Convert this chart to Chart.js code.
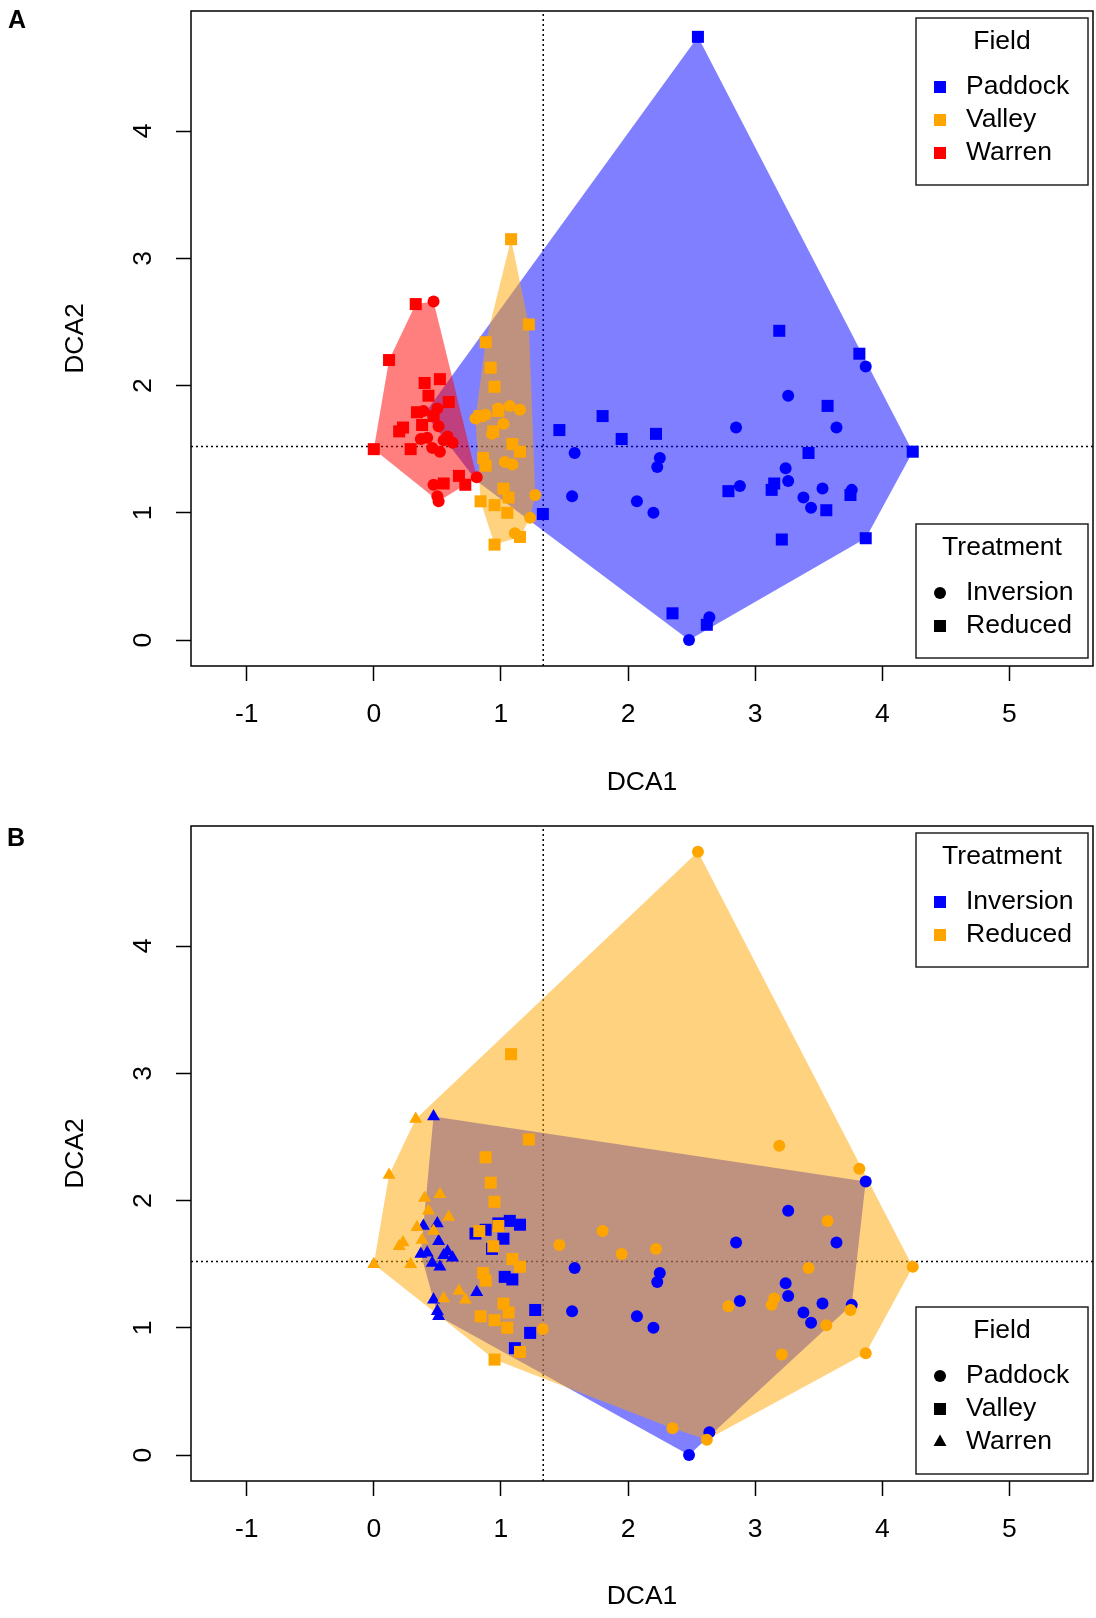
<!DOCTYPE html>
<html>
<head>
<meta charset="utf-8">
<script src="https://cdn.jsdelivr.net/npm/chart.js@4.4.1/dist/chart.umd.min.js"></script>
<style>
  html, body { margin: 0; padding: 0; background: #fff; }
  #wrap { position: relative; width: 1096px; height: 1618px; }
  canvas { position: absolute; left: 0; }
</style>
</head>
<body>
<div id="wrap">
  <canvas id="byField" width="1096" height="815" style="top:0"></canvas>
  <canvas id="byTreatment" width="1096" height="803" style="top:815px"></canvas>
</div>
<script>
var FONT = '"Liberation Sans", Arial, sans-serif';

// DCA site scores (DCA1, DCA2) for each field / tillage treatment
var paddockInversion = [[3.87, 2.15], [3.26, 1.92], [2.85, 1.67], [3.64, 1.67], [1.58, 1.47], [2.25, 1.43], [2.23, 1.36], [3.24, 1.35], [3.26, 1.25], [2.88, 1.21], [3.53, 1.19], [3.76, 1.18], [3.38, 1.12], [3.44, 1.04], [1.56, 1.13], [2.07, 1.09], [2.20, 1.00], [2.64, 0.18], [2.48, 0.00]];
var paddockReduced = [[2.55, 4.74], [3.19, 2.43], [3.82, 2.25], [3.57, 1.84], [1.46, 1.65], [1.80, 1.76], [1.95, 1.58], [2.22, 1.62], [3.42, 1.47], [4.24, 1.48], [2.79, 1.17], [3.15, 1.23], [3.13, 1.18], [3.75, 1.14], [3.56, 1.02], [3.21, 0.79], [3.87, 0.80], [1.33, 0.99], [2.35, 0.21], [2.62, 0.12]];
var valleyInversion = [[0.80, 1.74], [0.88, 1.77], [0.98, 1.82], [1.07, 1.84], [1.15, 1.81], [1.02, 1.70], [0.93, 1.62], [1.03, 1.40], [1.09, 1.38], [1.27, 1.14], [1.23, 0.96], [1.11, 0.84]];
var valleyReduced = [[1.08, 3.15], [1.22, 2.48], [0.88, 2.34], [0.92, 2.14], [0.95, 1.99], [0.83, 1.76], [0.98, 1.80], [0.94, 1.64], [1.09, 1.54], [1.15, 1.48], [0.86, 1.43], [0.88, 1.37], [1.02, 1.19], [1.06, 1.12], [0.84, 1.09], [0.95, 1.06], [1.05, 1.00], [1.15, 0.81], [0.95, 0.75]];
var warrenInversion = [[0.47, 2.66], [0.50, 1.82], [0.39, 1.80], [0.51, 1.68], [0.37, 1.58], [0.42, 1.59], [0.55, 1.57], [0.46, 1.51], [0.52, 1.48], [0.62, 1.55], [0.58, 1.60], [0.81, 1.28], [0.47, 1.22], [0.50, 1.13], [0.51, 1.09]];
var warrenReduced = [[0.33, 2.64], [0.12, 2.20], [0.00, 1.50], [0.40, 2.02], [0.52, 2.05], [0.43, 1.92], [0.59, 1.87], [0.34, 1.79], [0.47, 1.76], [0.23, 1.67], [0.20, 1.64], [0.38, 1.69], [0.29, 1.50], [0.55, 1.23], [0.67, 1.29], [0.72, 1.22]];

// the Paddock outline in the field plot also reaches these two vertices
var paddockHullExtra = [[0.40, 1.78], [0.81, 1.25]];

// axis ticks, limits and the dotted centre lines
var xTicks = [-1, 0, 1, 2, 3, 4, 5];
var yTicks = [0, 1, 2, 3, 4];
var xRange = [-1.438, 5.658];
var yRange = [-0.204, 4.943];
var dca1Centre = 1.333;
var dca2Centre = 1.52;

var blue = '#0000FF', orange = '#FFA500', red = '#FF0000';
var blueFill = 'rgba(0,0,255,0.5)', orangeFill = 'rgba(255,165,0,0.5)', redFill = 'rgba(255,0,0,0.5)';

function toXY(arr) {
    return arr.map(function (p) { return { x: p[0], y: p[1] }; });
}

// monotone chain convex hull, closed (first vertex repeated at the end)
function convexHull(pts) {
    var p = pts.slice().sort(function (a, b) { return a[0] - b[0] || a[1] - b[1]; });
    var cross = function (o, a, b) { return (a[0] - o[0]) * (b[1] - o[1]) - (a[1] - o[1]) * (b[0] - o[0]); };
    var lower = [], upper = [];
    p.forEach(function (q) {
        while (lower.length >= 2 && cross(lower[lower.length - 2], lower[lower.length - 1], q) <= 0) lower.pop();
        lower.push(q);
    });
    for (var i = p.length - 1; i >= 0; i--) {
        var q = p[i];
        while (upper.length >= 2 && cross(upper[upper.length - 2], upper[upper.length - 1], q) <= 0) upper.pop();
        upper.push(q);
    }
    lower.pop(); upper.pop();
    var hull = lower.concat(upper);
    hull.push(hull[0]);
    return hull;
}

function hullSet(points, fillColour, order) {
    return {
        type: 'line',
        data: toXY(convexHull(points)),
        fill: 'shape',
        backgroundColor: fillColour,
        borderColor: 'rgba(0,0,0,0)',
        borderWidth: 0,
        pointRadius: 0,
        tension: 0,
        order: order
    };
}

function pointSet(points, colour, style, order) {
    var radius = style === 'rect' ? 8.5 : (style === 'triangle' ? 7.5 : 6);
    return {
        type: 'scatter',
        data: toXY(points),
        pointStyle: style,
        pointRadius: radius,
        pointBackgroundColor: colour,
        pointBorderColor: colour,
        pointBorderWidth: 0,
        order: order
    };
}

function centreLines() {
    var dotted = { type: 'line', borderColor: '#000', borderWidth: 1.5, borderDash: [2, 3], pointRadius: 0, fill: false, order: 100 };
    return [
        Object.assign({ data: [{ x: dca1Centre, y: yRange[0] }, { x: dca1Centre, y: yRange[1] }] }, dotted),
        Object.assign({ data: [{ x: xRange[0], y: dca2Centre }, { x: xRange[1], y: dca2Centre }] }, dotted)
    ];
}

function drawMarker(ctx, shape, colour, x, y) {
    ctx.fillStyle = colour;
    ctx.beginPath();
    if (shape === 'circle') {
        ctx.arc(x, y, 6, 0, Math.PI * 2);
    } else if (shape === 'rect') {
        ctx.rect(x - 6, y - 6, 12, 12);
    } else {
        ctx.moveTo(x, y - 7.5);
        ctx.lineTo(x + 6.5, y + 4);
        ctx.lineTo(x - 6.5, y + 4);
        ctx.closePath();
    }
    ctx.fill();
}

function drawLegend(ctx, box) {
    var left = 916, width = 172;
    ctx.fillStyle = '#fff';
    ctx.fillRect(left, box.top, width, box.height);
    ctx.strokeStyle = '#222';
    ctx.lineWidth = 1.5;
    ctx.strokeRect(left, box.top, width, box.height);
    ctx.font = '26.5px ' + FONT;
    ctx.textBaseline = 'middle';
    ctx.fillStyle = '#000';
    ctx.textAlign = 'center';
    ctx.fillText(box.title, left + width / 2, box.top + 24);
    box.items.forEach(function (it, i) {
        var y = box.top + 69 + i * 33;
        drawMarker(ctx, it.shape, it.colour, 940, y);
        ctx.fillStyle = '#000';
        ctx.textAlign = 'left';
        ctx.fillText(it.label, 966, y);
    });
}

// plot frame, panel letter and the two legends
var panelDecor = {
    id: 'panelDecor',
    afterDraw: function (chart, args, opts) {
        var ctx = chart.ctx, a = chart.chartArea;
        ctx.save();
        ctx.strokeStyle = '#000';
        ctx.lineWidth = 1.5;
        ctx.strokeRect(a.left, a.top, a.right - a.left, a.bottom - a.top);
        ctx.font = 'bold 25px ' + FONT;
        ctx.fillStyle = '#000';
        ctx.textAlign = 'center';
        ctx.textBaseline = 'middle';
        ctx.fillText(opts.letter, opts.letterX, opts.letterY);
        opts.legends.forEach(function (box) { drawLegend(ctx, box); });
        ctx.restore();
    }
};

function makeScales(xAxisHeight, xTitlePad) {
    var font = { family: FONT, size: 26.5 };
    var grid = { display: true, drawOnChartArea: false, drawTicks: true, tickLength: 15, tickColor: '#000', tickWidth: 1.5, color: '#000' };
    return {
        x: {
            type: 'linear',
            min: xRange[0],
            max: xRange[1],
            afterBuildTicks: function (s) { s.ticks = xTicks.map(function (v) { return { value: v }; }); },
            afterFit: function (s) {
                s.height = xAxisHeight;
                s.paddingLeft = 0;
                s.paddingRight = 0;
            },
            grid: grid,
            border: { display: false },
            ticks: { font: font, color: '#000', padding: 18, maxRotation: 0, autoSkip: false, callback: function (v) { return String(v); } },
            title: { display: true, text: 'DCA1', font: font, color: '#000', padding: { top: 0, bottom: xTitlePad } }
        },
        y: {
            type: 'linear',
            min: yRange[0],
            max: yRange[1],
            afterBuildTicks: function (s) { s.ticks = yTicks.map(function (v) { return { value: v }; }); },
            afterFit: function (s) {
                s.width = 191;
                s.paddingTop = 0;
                s.paddingBottom = 0;
            },
            grid: grid,
            border: { display: false },
            ticks: { font: font, color: '#000', padding: 25, minRotation: 90, maxRotation: 90, crossAlign: 'center', autoSkip: false, callback: function (v) { return String(v); } },
            title: { display: true, text: 'DCA2', font: font, color: '#000', padding: { top: 60, bottom: 0 } }
        }
    };
}

function baseOptions(xAxisHeight, xTitlePad, decor) {
    return {
        responsive: false,
        animation: false,
        events: [],
        layout: { autoPadding: false, padding: { left: 0, right: 3, top: 11, bottom: 0 } },
        plugins: { legend: { display: false }, tooltip: { enabled: false }, panelDecor: decor },
        scales: makeScales(xAxisHeight, xTitlePad)
    };
}

// A: coloured by field, shaped by treatment
new Chart(document.getElementById('byField').getContext('2d'), {
    type: 'scatter',
    data: {
        datasets: centreLines().concat([
            hullSet(paddockInversion.concat(paddockReduced, paddockHullExtra), blueFill, 50),
            hullSet(valleyInversion.concat(valleyReduced), orangeFill, 49),
            hullSet(warrenInversion.concat(warrenReduced), redFill, 48),
            pointSet(paddockInversion, blue, 'circle', 6),
            pointSet(paddockReduced, blue, 'rect', 5),
            pointSet(valleyInversion, orange, 'circle', 4),
            pointSet(valleyReduced, orange, 'rect', 3),
            pointSet(warrenInversion, red, 'circle', 2),
            pointSet(warrenReduced, red, 'rect', 1)
        ])
    },
    options: baseOptions(149, 16, {
        letter: 'A', letterX: 17, letterY: 21,
        legends: [
            { top: 18, height: 167, title: 'Field', items: [
                { label: 'Paddock', colour: blue, shape: 'rect' },
                { label: 'Valley', colour: orange, shape: 'rect' },
                { label: 'Warren', colour: red, shape: 'rect' }
            ] },
            { top: 524, height: 134, title: 'Treatment', items: [
                { label: 'Inversion', colour: '#000', shape: 'circle' },
                { label: 'Reduced', colour: '#000', shape: 'rect' }
            ] }
        ]
    }),
    plugins: [panelDecor]
});

// B: coloured by treatment, shaped by field
new Chart(document.getElementById('byTreatment').getContext('2d'), {
    type: 'scatter',
    data: {
        datasets: centreLines().concat([
            hullSet(paddockInversion.concat(valleyInversion, warrenInversion), blueFill, 50),
            hullSet(paddockReduced.concat(valleyReduced, warrenReduced), orangeFill, 49),
            pointSet(paddockInversion, blue, 'circle', 6),
            pointSet(valleyInversion, blue, 'rect', 5),
            pointSet(warrenInversion, blue, 'triangle', 4),
            pointSet(paddockReduced, orange, 'circle', 3),
            pointSet(valleyReduced, orange, 'rect', 2),
            pointSet(warrenReduced, orange, 'triangle', 1)
        ])
    },
    options: baseOptions(137, 5, {
        letter: 'B', letterX: 16, letterY: 24,
        legends: [
            { top: 18, height: 134, title: 'Treatment', items: [
                { label: 'Inversion', colour: blue, shape: 'rect' },
                { label: 'Reduced', colour: orange, shape: 'rect' }
            ] },
            { top: 492, height: 167, title: 'Field', items: [
                { label: 'Paddock', colour: '#000', shape: 'circle' },
                { label: 'Valley', colour: '#000', shape: 'rect' },
                { label: 'Warren', colour: '#000', shape: 'triangle' }
            ] }
        ]
    }),
    plugins: [panelDecor]
});
</script>
</body>
</html>
